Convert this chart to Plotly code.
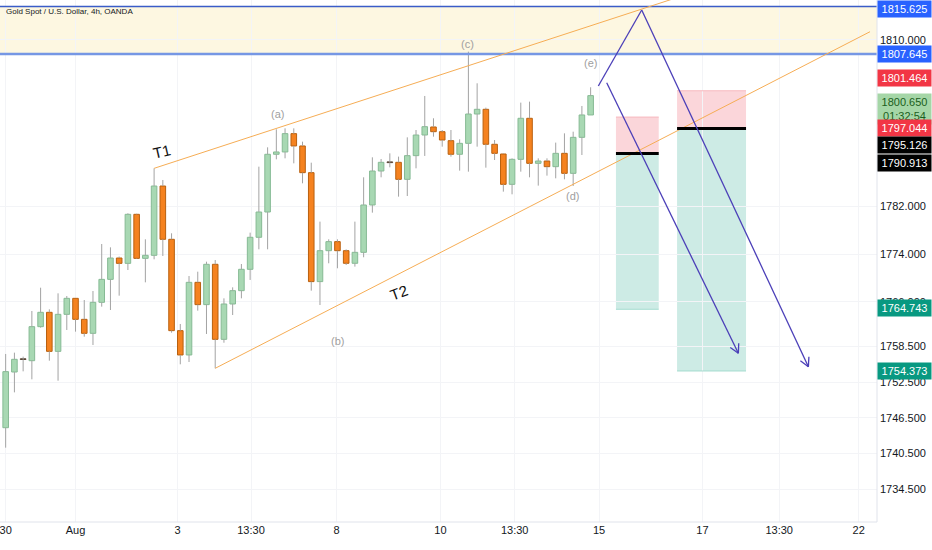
import math
import plotly.graph_objects as go

# ---------------- data ----------------
opens = [1744.84, 1754.20, 1756.40, 1756.10, 1761.82, 1764.23, 1757.67, 1763.89, 1766.58, 1763.05,
         1760.70, 1765.91, 1769.77, 1773.36, 1772.46, 1780.70, 1773.30, 1773.81, 1785.46, 1776.50,
         1761.15, 1757.06, 1769.27, 1765.52, 1772.30, 1759.69, 1765.63, 1767.87, 1771.46, 1776.84,
         1781.09, 1790.79, 1791.18, 1794.26, 1792.19, 1787.70, 1769.39, 1774.59, 1776.11, 1774.59,
         1772.47, 1774.31, 1782.27, 1787.98, 1789.44, 1789.44, 1786.58, 1790.56, 1794.03, 1795.38,
         1794.59, 1793.08, 1790.79, 1792.63, 1797.56, 1798.35, 1792.47, 1790.84, 1785.74, 1789.94,
         1796.84, 1789.27, 1789.66, 1788.71, 1790.95, 1787.59, 1793.64, 1797.40]
highs = [1757.23, 1757.45, 1756.78, 1764.45, 1768.37, 1764.73, 1767.42, 1766.97, 1766.60, 1766.30,
         1767.81, 1775.71, 1775.15, 1773.60, 1780.87, 1780.80, 1776.50, 1788.43, 1786.47, 1777.51,
         1762.27, 1770.33, 1771.06, 1772.74, 1773.02, 1766.58, 1768.43, 1772.35, 1777.62, 1788.71,
         1791.96, 1794.99, 1795.15, 1795.15, 1792.91, 1789.38, 1779.47, 1776.50, 1776.50, 1774.80,
         1779.47, 1786.92, 1790.28, 1790.00, 1790.95, 1790.40, 1793.64, 1794.87, 1800.59, 1796.84,
         1794.87, 1794.87, 1793.31, 1808.04, 1802.72, 1798.63, 1793.19, 1790.95, 1790.10, 1799.47,
         1799.64, 1790.11, 1790.11, 1792.75, 1794.31, 1794.59, 1798.91, 1802.05]
lows = [1741.48, 1750.78, 1754.31, 1752.97, 1761.65, 1756.10, 1752.74, 1761.26, 1760.98, 1760.14,
        1758.74, 1765.18, 1764.62, 1767.03, 1771.34, 1773.20, 1769.27, 1773.14, 1773.70, 1760.81,
        1755.49, 1755.88, 1764.51, 1760.59, 1754.82, 1759.12, 1763.78, 1766.58, 1769.67, 1774.82,
        1774.82, 1789.94, 1790.11, 1789.27, 1785.91, 1767.87, 1765.46, 1772.47, 1771.63, 1772.19,
        1771.91, 1773.48, 1780.98, 1786.92, 1788.60, 1783.67, 1783.78, 1788.43, 1790.51, 1793.75,
        1792.07, 1790.39, 1788.04, 1787.87, 1792.07, 1788.54, 1789.83, 1784.51, 1784.06, 1787.87,
        1786.92, 1785.52, 1787.20, 1786.75, 1786.58, 1785.46, 1790.67, 1797.40]
closes = [1754.26, 1756.33, 1756.35, 1761.82, 1764.23, 1757.67, 1763.89, 1766.58, 1763.05, 1760.70,
          1765.91, 1769.77, 1773.36, 1772.46, 1780.70, 1773.30, 1773.81, 1785.46, 1776.50, 1761.15,
          1757.06, 1769.27, 1765.52, 1772.30, 1759.69, 1765.63, 1767.87, 1771.46, 1776.84, 1781.09,
          1790.79, 1791.18, 1794.26, 1792.19, 1787.70, 1769.39, 1774.59, 1776.11, 1774.59, 1772.47,
          1774.31, 1782.27, 1787.98, 1789.44, 1789.50, 1786.58, 1790.56, 1794.03, 1795.43, 1794.59,
          1793.19, 1790.79, 1792.63, 1797.56, 1798.35, 1792.47, 1790.95, 1785.74, 1789.94, 1796.84,
          1789.27, 1789.66, 1788.71, 1790.95, 1787.59, 1793.64, 1797.40, 1800.65]

tick_positions = [0.0, 8.0, 19.7, 28.1, 37.9, 49.8, 58.3, 67.96, 79.8, 88.6, 97.7]
tick_labels = ["30", "Aug", "3", "13:30", "8", "10", "13:30", "15", "17", "13:30", "22"]
price_ticks = [1734.5, 1740.5, 1746.5, 1752.5, 1758.5, 1766.0, 1774.0, 1782.0, 1810.0]

zone_low, zone_high = 1807.645, 1815.625

# trend lines: (start index, start price, end index, end price)
t1_line = [17, 1788.43, 100, 1828.2]
t2_line = [24, 1754.82, 99, 1811.39]

# short positions: x start, x end, stop, entry, target
pos_x0 = [69.9, 76.9]
pos_x1 = [74.8, 84.8]
pos_stop = [1797.044, 1801.464]
pos_entry = [1790.913, 1795.126]
pos_target = [1764.743, 1754.373]

# projected path (index, price)
path_i = [67.88, 72.85, 91.94]
path_p = [1802.27, 1815.04, 1755.09]
arrow2_i = [68.84, 83.92]
arrow2_p = [1802.82, 1757.34]

wave_labels = ["(a)", "(b)", "(c)", "(d)", "(e)"]
wave_i = [31.08, 37.95, 52.84, 64.87, 66.93]
wave_p = [1797.56, 1759.41, 1809.33, 1783.78, 1806.13]

axis_labels = ["1815.625", "1807.645", "1801.464", "1800.650<br>01:32:54", "1797.044",
               "1795.126", "1790.913", "1764.743", "1754.373"]
axis_label_prices = [1815.625, 1807.645, 1801.464, 1800.650, 1797.044,
                     1795.126, 1790.913, 1764.743, 1754.373]
axis_label_shift = [-2, 0, 13, -5, -11, -16.5, -9, 1.5, 0]
axis_label_bg = ["#2962ff", "#2962ff", "#f23645", "#a5d6a7", "#f23645",
                 "#000000", "#000000", "#089981", "#089981"]
axis_label_fg = ["white", "white", "white", "#1b5e20", "white", "white", "white", "white", "white"]

# ---------------- geometry ----------------
W, H = 932, 550
ML, MR, MT, MB = 0, 55, 0, 28
XR = [-0.65, 99.8]
YR = [1728.99, 1816.72]
sx = (W - ML - MR) / (XR[1] - XR[0])
sy = (H - MT - MB) / (YR[1] - YR[0])

FONT = "Liberation Sans, Arial, sans-serif"
GREEN_FILL, GREEN_LINE = "#a8d8b3", "#86ba94"
ORANGE_FILL, ORANGE_LINE = "#f5821f", "#b8600f"
DOJI = "#5a4636"
WICK = "#a3a3a3"

n = len(opens)
idx = list(range(n))

# wicks: upper and lower segments
wx, wy = [], []
for i in idx:
    top = max(opens[i], closes[i])
    bot = min(opens[i], closes[i])
    wx += [i, i, None, i, i, None]
    wy += [highs[i], top, None, bot, lows[i], None]

bases, heights, fills, lines = [], [], [], []
for i in idx:
    o, c = opens[i], closes[i]
    d = abs(c - o)
    if d < 0.1:
        bases.append(min(o, c) - 0.05)
        heights.append(0.12)
        fills.append(DOJI)
        lines.append(DOJI)
    else:
        bases.append(min(o, c))
        heights.append(d)
        if c >= o:
            fills.append(GREEN_FILL)
            lines.append(GREEN_LINE)
        else:
            fills.append(ORANGE_FILL)
            lines.append(ORANGE_LINE)

fig = go.Figure()
fig.add_trace(go.Scatter(x=wx, y=wy, mode="lines", line=dict(color=WICK, width=1),
                         hoverinfo="skip", showlegend=False))
fig.add_trace(go.Bar(x=idx, y=heights, base=bases, width=0.64,
                     marker=dict(color=fills, line=dict(color=lines, width=1)),
                     showlegend=False, hoverinfo="skip"))

shapes = []
# supply zone
shapes.append(dict(type="rect", xref="paper", x0=0, x1=1, yref="y", y0=zone_low, y1=zone_high,
                   fillcolor="#fdf7e1", line=dict(width=0), layer="below"))
shapes.append(dict(type="line", xref="paper", x0=0, x1=1, yref="y", y0=zone_high, y1=zone_high,
                   line=dict(color="#3a5cc8", width=1.5)))
shapes.append(dict(type="line", xref="paper", x0=0, x1=1, yref="y", y0=zone_low, y1=zone_low,
                   line=dict(color="#7697e4", width=2.5)))

# trend lines
for ln in (t1_line, t2_line):
    shapes.append(dict(type="line", xref="x", yref="y", x0=ln[0], y0=ln[1], x1=ln[2], y1=ln[3],
                       line=dict(color="#f6ad55", width=1)))

# position boxes
for k in range(len(pos_x0)):
    shapes.append(dict(type="rect", xref="x", yref="y", x0=pos_x0[k], x1=pos_x1[k],
                       y0=pos_entry[k], y1=pos_stop[k], fillcolor="#fbd6da",
                       line=dict(width=0), layer="below"))
    shapes.append(dict(type="rect", xref="x", yref="y", x0=pos_x0[k], x1=pos_x1[k],
                       y0=pos_target[k], y1=pos_entry[k], fillcolor="#cdebe5",
                       line=dict(width=0), layer="below"))
    shapes.append(dict(type="line", xref="x", yref="y", x0=pos_x0[k], x1=pos_x1[k],
                       y0=pos_stop[k], y1=pos_stop[k], line=dict(color="#f7b8be", width=1)))
    shapes.append(dict(type="line", xref="x", yref="y", x0=pos_x0[k], x1=pos_x1[k],
                       y0=pos_target[k], y1=pos_target[k], line=dict(color="#a5dccf", width=1)))
    shapes.append(dict(type="line", xref="x", yref="y", x0=pos_x0[k], x1=pos_x1[k],
                       y0=pos_entry[k], y1=pos_entry[k], line=dict(color="#000000", width=3)))

ARROW = "#4b3fb8"


def seg(i0, p0, i1, p1):
    shapes.append(dict(type="line", xref="x", yref="y", x0=i0, y0=p0, x1=i1, y1=p1,
                       line=dict(color=ARROW, width=1.3)))


def head(i0, p0, i1, p1, length=10, ang=28):
    dx = (i1 - i0) * sx
    dy = (p1 - p0) * sy
    L = math.hypot(dx, dy)
    ux, uy = dx / L, dy / L
    for s in (1, -1):
        a = math.radians(ang) * s
        rx = -(ux * math.cos(a) - uy * math.sin(a)) * length
        ry = -(ux * math.sin(a) + uy * math.cos(a)) * length
        seg(i1, p1, i1 + rx / sx, p1 + ry / sy)


for k in range(len(path_i) - 1):
    seg(path_i[k], path_p[k], path_i[k + 1], path_p[k + 1])
head(path_i[-2], path_p[-2], path_i[-1], path_p[-1])
seg(arrow2_i[0], arrow2_p[0], arrow2_i[1], arrow2_p[1])
head(arrow2_i[0], arrow2_p[0], arrow2_i[1], arrow2_p[1])

# axis borders
shapes.append(dict(type="line", xref="paper", yref="paper", x0=1, x1=1, y0=0, y1=1,
                   line=dict(color="#e0e3eb", width=1)))
shapes.append(dict(type="line", xref="paper", yref="paper", x0=0, x1=1, y0=0, y1=0,
                   line=dict(color="#e0e3eb", width=1)))

annotations = []
annotations.append(dict(xref="paper", yref="paper", x=0.004, y=0.991, xanchor="left", yanchor="top",
                        text="Gold Spot / U.S. Dollar, 4h, OANDA", showarrow=False,
                        font=dict(family=FONT, size=8, color="#131722")))
for t, wi, wp in zip(wave_labels, wave_i, wave_p):
    annotations.append(dict(x=wi, y=wp, xref="x", yref="y", text=t, showarrow=False,
                            font=dict(family=FONT, size=11, color="#a0a0a0")))
annotations.append(dict(x=17.9, y=1791.34, xref="x", yref="y", text="T1", showarrow=False,
                        textangle=-13, font=dict(family=FONT, size=15, color="#111111")))
annotations.append(dict(x=45.05, y=1767.64, xref="x", yref="y", text="T2", showarrow=False,
                        textangle=-20, font=dict(family=FONT, size=15, color="#111111")))

for txt, pr, sh, bg, fg in zip(axis_labels, axis_label_prices, axis_label_shift, axis_label_bg, axis_label_fg):
    two = "<br>" in txt
    annotations.append(dict(xref="paper", yref="y", x=1, y=pr, xanchor="left",
                            yanchor="top" if two else "middle",
                            yshift=(sh + 8) if two else sh,
                            text=txt, showarrow=False, bgcolor=bg, width=53,
                            height=30 if two else 16, borderpad=0, align="center",
                            font=dict(family=FONT, size=11, color=fg)))

fig.update_layout(
    width=W, height=H,
    margin=dict(l=ML, r=MR, t=MT, b=MB, autoexpand=False),
    paper_bgcolor="white", plot_bgcolor="white",
    barmode="overlay", showlegend=False,
    shapes=shapes, annotations=annotations,
    xaxis=dict(range=XR, tickvals=tick_positions, ticktext=tick_labels, showgrid=True,
               gridcolor="#f3f4f7", zeroline=False, showline=False, ticks="", automargin=False,
               ticklabeloverflow="allow",
               tickfont=dict(family=FONT, size=11, color="#131722"), fixedrange=True),
    yaxis=dict(range=YR, side="right", tickvals=price_ticks, automargin=False,
               ticktext=["%.3f" % v for v in price_ticks], showgrid=True, gridcolor="#f3f4f7",
               zeroline=False, showline=False, ticks="", ticklabelstandoff=2,
               tickfont=dict(family=FONT, size=11, color="#131722"), fixedrange=True),
)

fig.write_html("out.html", config={"displayModeBar": False},
               post_script="document.body.style.margin='0px';document.body.style.overflow='hidden';")
